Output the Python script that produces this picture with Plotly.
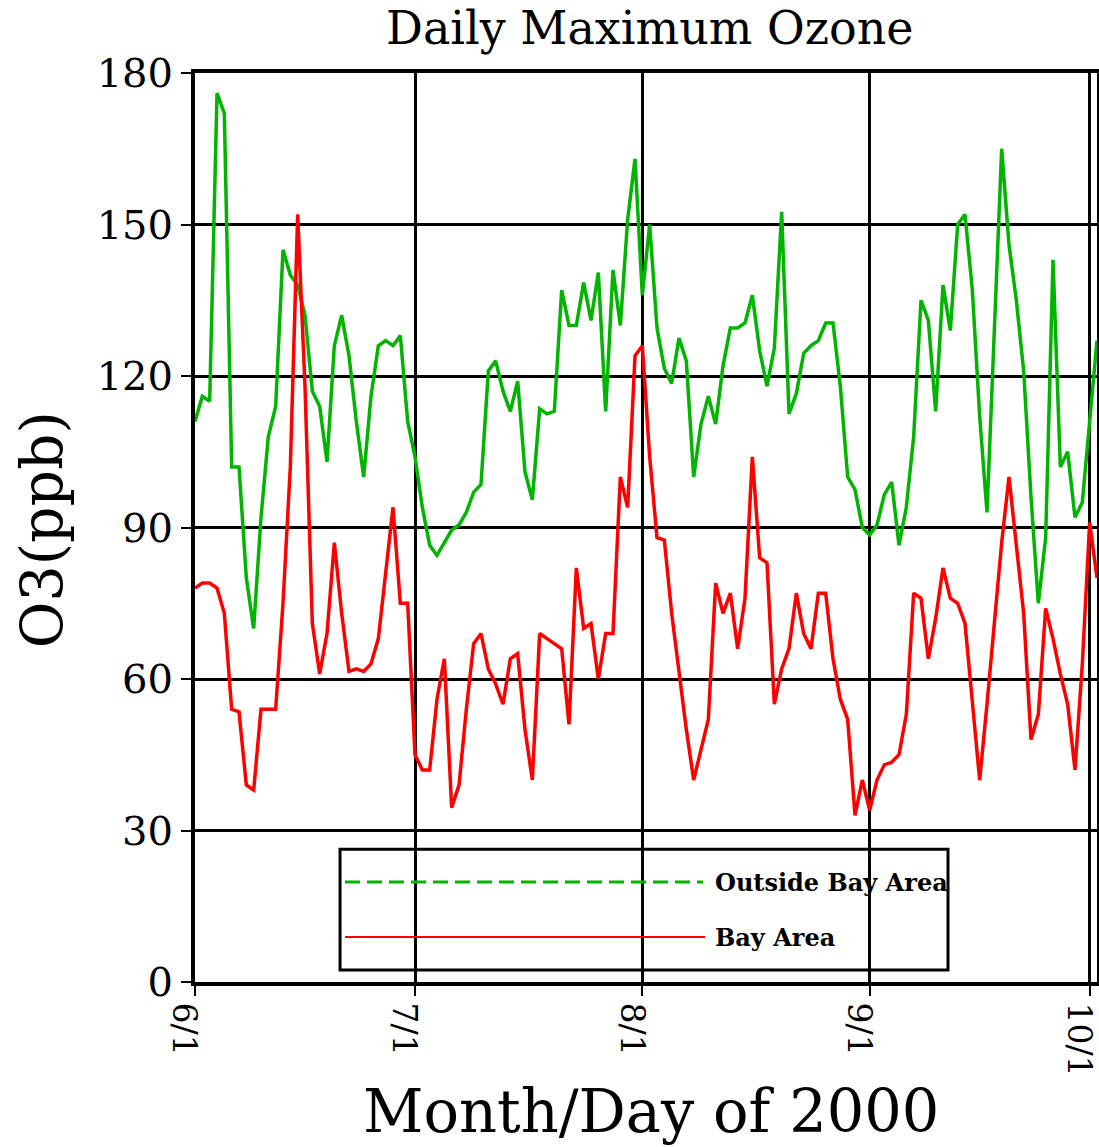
import pandas as pd
import plotly.graph_objects as go

start_date = "2000-06-01"

outside_bay = [111, 116, 115, 176, 172, 102, 102, 80, 70, 92, 108, 114, 145, 140, 138, 132,
               117, 114, 103, 126, 132, 124, 111, 100, 116, 126, 127, 126, 128, 111,
               104, 94, 86.5, 84.5, 87, 89.5, 90.5, 93, 97, 98.5, 121, 123, 117, 113, 119,
               101, 95.5, 113.5, 112.5, 113, 137, 130, 130, 138.5, 131, 140.5, 113, 141, 130,
               151, 163,
               136, 150, 129.5, 121.5, 118.5, 127.5, 123, 100, 110.5, 116, 110.5, 122, 129.5,
               129.5, 130.5, 136, 125, 118, 125.5, 152.5, 112.5, 116.5, 124.5, 126, 127,
               130.5, 130.5, 118, 100, 97.5, 90,
               88.5, 90.5, 96.5, 99, 86.5, 94, 108, 135, 131, 113, 138, 129, 150, 152, 137,
               112, 93, 130, 165, 146, 135, 121, 96, 75, 88, 143, 102, 105, 92, 95,
               112, 127]

bay_area = [78, 79, 79, 78, 73, 54, 53.5, 39, 38, 54, 54, 54, 75, 102, 152, 118,
            71, 61, 69, 87, 73, 61.5, 62, 61.5, 63, 68, 81, 94, 75, 75,
            45, 42, 42, 56, 64, 34.5, 39, 54, 67, 69, 62, 59, 55, 64, 65,
            50, 40, 69, 68, 67, 66, 51, 82, 70, 71, 60, 69, 69, 100, 94, 124,
            126, 104, 88, 87.5, 73, 61.5, 50, 40, 46, 52, 79, 73, 77, 66, 76,
            104, 84, 83, 55, 62, 66, 77, 69, 66, 77, 77, 64, 56, 52, 33, 40,
            34, 40, 43, 43.5, 45, 53, 77, 76, 64, 72, 82, 76, 75, 71, 55,
            40, 55, 71, 87, 100, 86, 73, 48, 53, 74, 68, 61, 55, 42, 63,
            91, 80]

tick_dates = ["2000-06-01", "2000-07-01", "2000-08-01", "2000-09-01", "2000-10-01"]
tick_labels = ["6/1", "7/1", "8/1", "9/1", "10/1"]
y_ticks = [0, 30, 60, 90, 120, 150, 180]

series_names = ["Outside Bay Area", "Bay Area"]
series_colors = ["#00b400", "#ff0000"]

dates = pd.date_range(start_date, periods=len(outside_bay), freq="D")

FONT = "DejaVu Serif"

fig = go.Figure()
fig.add_trace(go.Scatter(x=dates, y=outside_bay, mode="lines", name=series_names[0],
                         line=dict(color=series_colors[0], width=3.5), showlegend=False))
fig.add_trace(go.Scatter(x=dates, y=bay_area, mode="lines", name=series_names[1],
                         line=dict(color=series_colors[1], width=3.5), showlegend=False))

# custom legend box
shapes = [
    dict(type="rect", xref="paper", yref="y", x0=0.164, x1=0.566, y0=17.2, y1=22.4,
         fillcolor="white", line=dict(width=0), layer="between"),
    dict(type="rect", xref="paper", yref="y", x0=0.164, x1=0.566, y0=6.2, y1=11.8,
         fillcolor="white", line=dict(width=0), layer="between"),
    dict(type="rect", xref="paper", yref="y", x0=0.1608, x1=0.8348, y0=2.4, y1=26.3,
         line=dict(color="black", width=3), fillcolor="rgba(0,0,0,0)", layer="above"),
    dict(type="line", xref="paper", yref="y", x0=0.1663, x1=0.5632, y0=19.8, y1=19.8,
         line=dict(color=series_colors[0], width=3, dash="15px,7px"), layer="above"),
    dict(type="line", xref="paper", yref="y", x0=0.1663, x1=0.5654, y0=8.9, y1=8.9,
         line=dict(color=series_colors[1], width=2), layer="above"),
]

annotations = [
    dict(text=series_names[0], xref="paper", yref="y", x=0.5743, y=19.8, xanchor="left",
         yanchor="middle", showarrow=False,
         font=dict(family=FONT, size=24, color="black", weight="bold")),
    dict(text=series_names[1], xref="paper", yref="y", x=0.5743, y=8.9, xanchor="left",
         yanchor="middle", showarrow=False,
         font=dict(family=FONT, size=24, color="black", weight="bold")),
    dict(text="Daily Maximum Ozone", xref="paper", yref="paper", x=0.504, y=1.0495,
         xanchor="center", yanchor="middle", showarrow=False,
         font=dict(family=FONT, size=46, color="black")),
    dict(text="O3(ppb)", xref="paper", yref="paper", x=-0.1696, y=0.497,
         xanchor="center", yanchor="middle", showarrow=False, textangle=-90,
         font=dict(family=FONT, size=57, color="black")),
    dict(text="Month/Day of 2000", xref="paper", yref="paper", x=0.506, y=-0.1430,
         xanchor="center", yanchor="middle", showarrow=False,
         font=dict(family=FONT, size=59, color="black")),
]

fig.update_layout(
    width=1099, height=1147,
    margin=dict(l=195, r=2, t=73, b=165, autoexpand=False),
    paper_bgcolor="white", plot_bgcolor="white",
    shapes=shapes, annotations=annotations,
    showlegend=False,
)

fig.update_xaxes(
    type="date", range=["2000-06-01 00:00", "2000-10-02 00:00"],
    tickvals=tick_dates, ticktext=tick_labels, tickangle=90,
    tickfont=dict(family=FONT, size=33, color="black"),
    ticklabeloverflow="allow", ticklabelshift=-11, automargin=False,
    ticks="outside", ticklen=10, tickwidth=2, tickcolor="black",
    showgrid=True, gridcolor="black", gridwidth=3,
    showline=True, linecolor="black", linewidth=4, mirror=True,
    zeroline=False,
)
fig.update_yaxes(
    range=[0, 180], tickvals=y_ticks, automargin=False,
    tickfont=dict(family=FONT, size=40, color="black"),
    ticks="outside", ticklen=10, tickwidth=2, tickcolor="black",
    showgrid=True, gridcolor="black", gridwidth=3,
    showline=True, linecolor="black", linewidth=4, mirror=True,
    zeroline=False,
)

fig.write_html(
    "out.html",
    config={"displayModeBar": False},
    post_script="document.body.style.margin='0';document.body.style.overflow='hidden';",
)
